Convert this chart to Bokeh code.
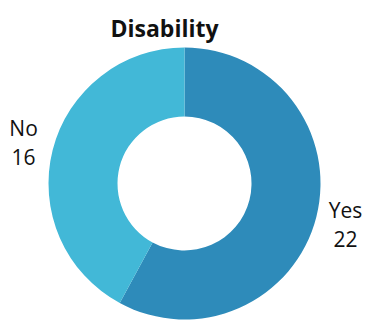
import math
from bokeh.plotting import figure
from bokeh.models import Range1d, ColumnDataSource
from bokeh.core.properties import value
from bokeh.embed import file_html
from bokeh.resources import INLINE

title = "Disability"
categories = ["Yes", "No"]
counts = [22, 16]
colors = ["#2E8BBA", "#42B8D7"]

W, H = 365, 321
cx, cy = 184, 321 - 183
r_out, r_in, r_lab = 136, 67, 166

total = sum(counts)
starts, ends, lx, ly, labels = [], [], [], [], []
acc = 0
for c, n in zip(categories, counts):
    a0 = math.pi / 2 - 2 * math.pi * acc / total
    acc += n
    a1 = math.pi / 2 - 2 * math.pi * acc / total
    starts.append(a0)
    ends.append(a1)
    mid = (a0 + a1) / 2
    lx.append(cx + r_lab * math.cos(mid))
    ly.append(cy + r_lab * math.sin(mid))
    labels.append(f"{c}\n{n}")

src = ColumnDataSource(dict(start=starts, end=ends, color=colors, lx=lx, ly=ly, label=labels))

p = figure(width=W, height=H, output_backend="svg", toolbar_location=None,
           x_range=Range1d(0, W), y_range=Range1d(0, H), min_border=0)
p.axis.visible = False
p.grid.visible = False
p.outline_line_color = None
p.background_fill_color = "white"

p.annular_wedge(x=cx, y=cy, inner_radius=r_in, outer_radius=r_out,
                start_angle="start", end_angle="end", direction="clock",
                fill_color="color", line_color=None, source=src)

p.text(x="lx", y="ly", text="label", source=src, text_align="center",
       text_baseline="middle", text_font=value("Open Sans"), text_font_size="21px",
       text_color="#111111", text_line_height=1.05)

p.text(x=[164], y=[H - 27], text=[title], text_align="center", text_baseline="alphabetic",
       text_font=value("Open Sans"), text_font_style="bold", text_font_size="23px",
       text_color="#111111")

open("out.html", "w").write(file_html(p, INLINE))
